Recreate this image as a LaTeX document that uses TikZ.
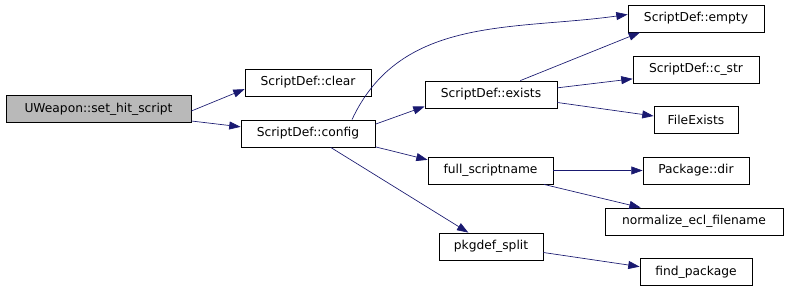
\documentclass[tikz,border=0pt]{standalone}
\usepackage{fontspec}
\setmainfont{DejaVu Sans}
\usepackage{tikz}
\usetikzlibrary{arrows.meta,positioning}
\definecolor{edgeblue}{HTML}{191970}

\begin{document}
\begin{tikzpicture}[x=0.75pt, y=-0.75pt,
    fn/.style={rectangle, draw, line width=0.6pt, minimum height=20.25pt, inner xsep=0pt, font=\fontsize{9.2}{11}\selectfont, fill=white},
    root/.style={fn, fill=gray!55},
    call/.style={-{Triangle[length=8.5pt,width=6pt]}, draw=edgeblue, line width=0.5pt}]

    \useasboundingbox (0,0) rectangle (792,291);

    % Column 1: the caller
    \node[root, minimum width=138.75pt] (hit) at (98.5,109) {UWeapon::set\_hit\_script};

    % Column 2
    \node[fn, minimum width=94.5pt] (clear) at (308,82.5) {ScriptDef::clear};
    \node[fn, minimum width=100.5pt] (config) at (308,133.5) {ScriptDef::config};

    % Column 3
    \node[fn, minimum width=99pt] (exists) at (491,94.5) {ScriptDef::exists};
    \node[fn, minimum width=93.75pt] (fullname) at (490.5,170.5) {full\_scriptname};
    \node[fn, minimum width=78pt] (split) at (491,246.5) {pkgdef\_split};

    % Column 4
    \node[fn, minimum width=102pt] (empty) at (696,18.5) {ScriptDef::empty};
    \node[fn, minimum width=94.5pt] (cstr) at (696,69.5) {ScriptDef::c\_str};
    \node[fn, minimum width=63pt] (fexists) at (696,120) {FileExists};
    \node[fn, minimum width=79.5pt] (pkgdir) at (696,170.5) {Package::dir};
    \node[fn, minimum width=133.5pt] (normal) at (694,221.5) {normalize\_ecl\_filename};
    \node[fn, minimum width=84pt] (findpkg) at (696,272) {find\_package};

    % Calls
    \draw[call] ([yshift=-1.5pt]hit.east) -- ([yshift=-5pt]clear.west);
    \draw[call] ([yshift=-9pt]hit.east) -- ([yshift=5pt]config.west);
    \draw[call] ([xshift=33pt]config.north) to[out=65, in=188] ([yshift=3pt]empty.west);
    \draw[call] ([yshift=7pt]config.east) -- ([yshift=-9pt]exists.west);
    \draw[call] ([yshift=-10pt]config.east) -- ([yshift=8pt]fullname.west);
    \draw[call] ([xshift=17pt]config.south) -- ([xshift=-17pt]split.north);
    \draw[call] ([xshift=22pt]exists.north) -- ([xshift=-42pt]empty.south);
    \draw[call] ([yshift=5pt]exists.east) -- ([yshift=-7pt]cstr.west);
    \draw[call] ([yshift=-6pt]exists.east) -- ([yshift=3pt]fexists.west);
    \draw[call] (fullname.east) -- (pkgdir.west);
    \draw[call] ([xshift=40pt]fullname.south) -- ([xshift=-40pt]normal.north);
    \draw[call] ([yshift=-4.5pt]split.east) -- ([yshift=4pt]findpkg.west);
\end{tikzpicture}
\end{document}
